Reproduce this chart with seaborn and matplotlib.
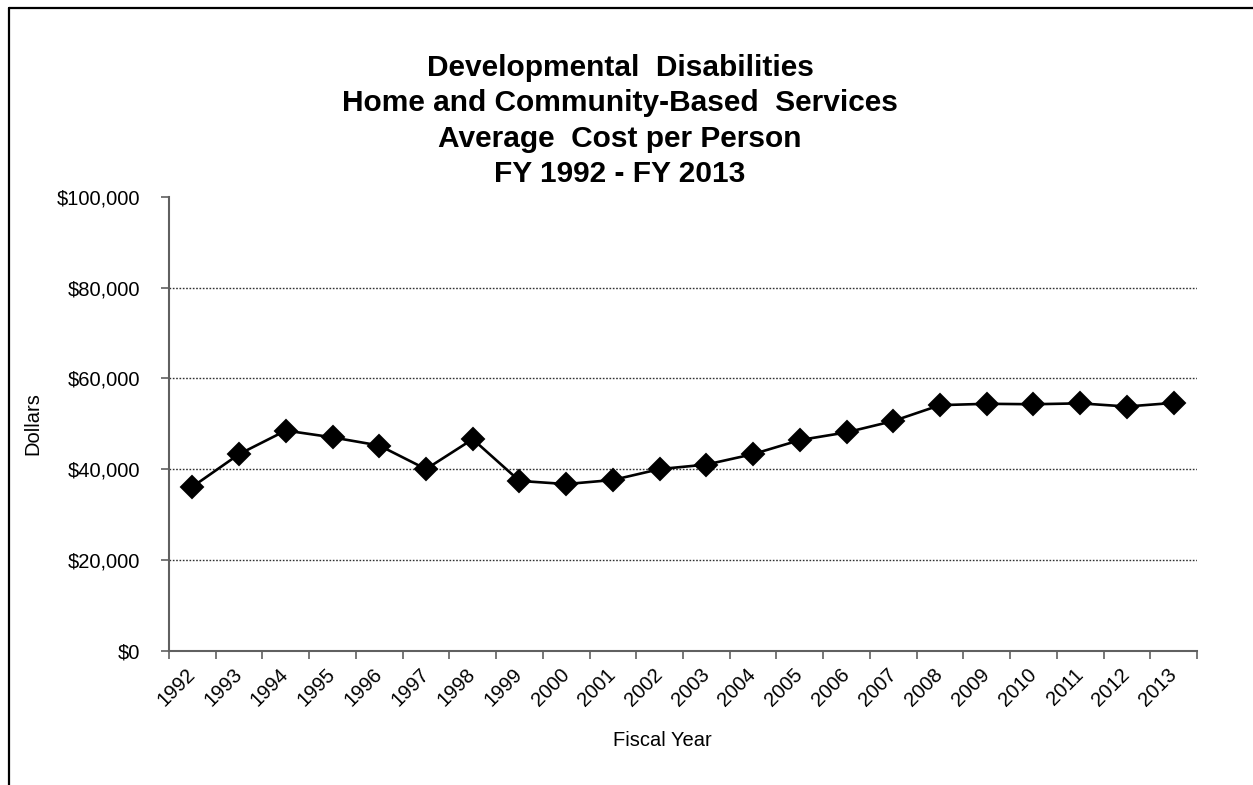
import matplotlib
matplotlib.use("Agg")
import matplotlib.pyplot as plt
from matplotlib.lines import Line2D
from matplotlib.ticker import FixedLocator, FuncFormatter
import numpy as np
import pandas as pd
import seaborn as sns

# Average cost per person by fiscal year
years = ["1992", "1993", "1994", "1995", "1996", "1997", "1998", "1999",
         "2000", "2001", "2002", "2003", "2004", "2005", "2006", "2007",
         "2008", "2009", "2010", "2011", "2012", "2013"]
avg_cost = [36100, 43300, 48500, 47000, 45200, 40000, 46600, 37400,
            36700, 37600, 40000, 41000, 43300, 46400, 48100, 50600,
            54100, 54400, 54300, 54500, 53800, 54600]
y_ticks = [0, 20000, 40000, 60000, 80000, 100000]

title_lines = ["Developmental  Disabilities",
               "Home and Community-Based  Services",
               "Average  Cost per Person",
               "FY 1992 - FY 2013"]

sns.set_theme(style="white")
plt.rcParams["font.family"] = ["Liberation Sans", "DejaVu Sans"]
plt.rcParams["text.color"] = "black"
plt.rcParams["xtick.color"] = "black"
plt.rcParams["ytick.color"] = "black"

df = pd.DataFrame({"Fiscal Year": years, "Dollars": avg_cost})

fig = plt.figure(figsize=(12.53, 7.85), dpi=100)
ax = fig.add_axes([169 / 1253, 1 - 650.5 / 785, (1197 - 169) / 1253, (650.5 - 197) / 785])

# horizontal dotted gridlines behind the series
for v in y_ticks[1:-1]:
    ax.axhline(v, color="#303030", linewidth=1.0, linestyle=(0, (1.2, 1.2)), zorder=0)

sns.pointplot(data=df, x="Fiscal Year", y="Dollars", color="black",
              markers="D", markersize=11.5, linewidth=1.9, ax=ax, zorder=3,
              errorbar=None)

ax.set_xlim(-0.5, len(years) - 0.5)
ax.set_ylim(0, 100000)

# y axis
ax.yaxis.set_major_locator(FixedLocator(y_ticks))
ax.yaxis.set_major_formatter(FuncFormatter(lambda v, p: f"${v:,.0f}"))
ax.tick_params(axis="y", which="major", direction="out", length=6, width=1.2,
               color="#606060", labelcolor="black", labelsize=14.5, pad=15, left=True)

# x axis: labels at category centres, tick marks on category boundaries
ax.set_xticks(np.arange(len(years)))
ax.set_xticklabels(years, rotation=45, ha="right", va="center", rotation_mode="anchor")
ax.set_xticks(np.arange(len(years) + 1) - 0.5, minor=True)
ax.tick_params(axis="x", which="major", length=0, labelcolor="black", labelsize=14.5, pad=15)
ax.tick_params(axis="x", which="minor", direction="out", length=6, width=1.2,
               color="#606060", bottom=True)

for side in ("top", "right"):
    ax.spines[side].set_visible(False)
for side in ("left", "bottom"):
    ax.spines[side].set_color("#606060")
    ax.spines[side].set_linewidth(1.5)

ax.set_xlabel("")
ax.set_ylabel("")
fig.text(33 / 1253, 1 - 424 / 785, "Dollars", rotation=90, ha="center", va="center",
         fontsize=14.5)
fig.text(662 / 1253, 1 - 740 / 785, "Fiscal Year", ha="center", va="center",
         fontsize=14.5)

fig.text(620 / 1253, 1 - 121 / 785, "\n".join(title_lines), ha="center", va="center",
         fontsize=21.5, fontweight="bold", linespacing=1.33)

# chart area border (left and top edges)
fig.add_artist(Line2D([8.5 / 1253, 8.5 / 1253], [0, 1 - 8 / 785],
                      transform=fig.transFigure, color="black", linewidth=1.6))
fig.add_artist(Line2D([8.5 / 1253, 1], [1 - 8 / 785, 1 - 8 / 785],
                      transform=fig.transFigure, color="black", linewidth=1.6))

fig.savefig("out.png", dpi=100, facecolor="white")
